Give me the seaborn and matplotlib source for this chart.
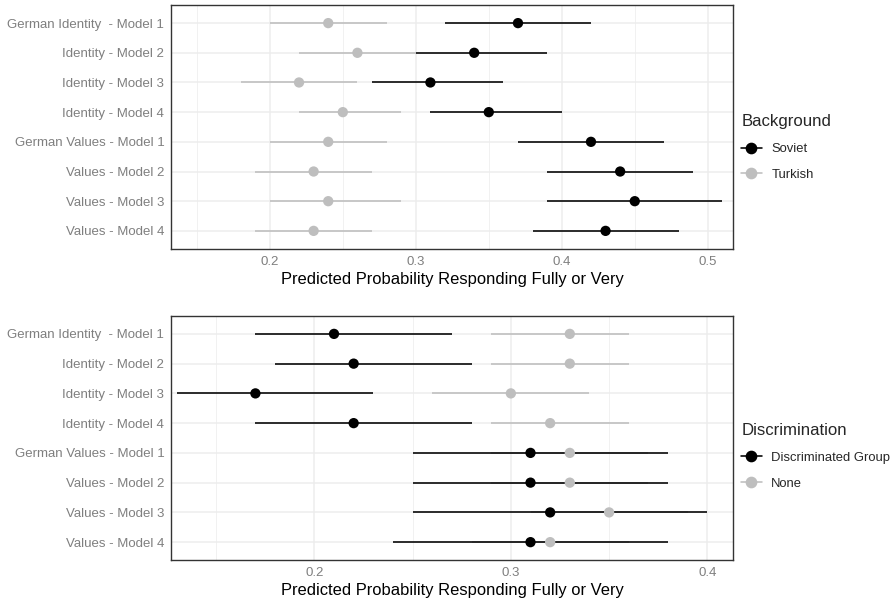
import pandas as pd
import seaborn as sns
import matplotlib.pyplot as plt
from matplotlib.lines import Line2D
from matplotlib.ticker import MultipleLocator

labels = ["German Identity  - Model 1", "Identity - Model 2", "Identity - Model 3",
          "Identity - Model 4", "German Values - Model 1", "Values - Model 2",
          "Values - Model 3", "Values - Model 4"]

# top panel: background
soviet_est = [0.37, 0.34, 0.31, 0.35, 0.42, 0.44, 0.45, 0.43]
soviet_lo = [0.32, 0.30, 0.27, 0.31, 0.37, 0.39, 0.39, 0.38]
soviet_hi = [0.42, 0.39, 0.36, 0.40, 0.47, 0.49, 0.51, 0.48]
turkish_est = [0.24, 0.26, 0.22, 0.25, 0.24, 0.23, 0.24, 0.23]
turkish_lo = [0.20, 0.22, 0.18, 0.22, 0.20, 0.19, 0.20, 0.19]
turkish_hi = [0.28, 0.30, 0.26, 0.29, 0.28, 0.27, 0.29, 0.27]

# bottom panel: discrimination
disc_est = [0.21, 0.22, 0.17, 0.22, 0.31, 0.31, 0.32, 0.31]
disc_lo = [0.17, 0.18, 0.13, 0.17, 0.25, 0.25, 0.25, 0.24]
disc_hi = [0.27, 0.28, 0.23, 0.28, 0.38, 0.38, 0.40, 0.38]
none_est = [0.33, 0.33, 0.30, 0.32, 0.33, 0.33, 0.35, 0.32]
none_lo = [0.29, 0.29, 0.26, 0.29, 0.29, 0.29, 0.31, 0.28]
none_hi = [0.36, 0.36, 0.34, 0.36, 0.37, 0.37, 0.39, 0.36]

BLACK = "#000000"
GREY = "#bebebe"


def make_df(names, ests, los, his):
    parts = []
    for name, est, lo, hi in zip(names, ests, los, his):
        parts.append(pd.DataFrame({"label": labels, "group": name,
                                   "est": est, "lo": lo, "hi": hi}))
    return pd.concat(parts, ignore_index=True)


df_bg = make_df(["Soviet", "Turkish"], [soviet_est, turkish_est],
                [soviet_lo, turkish_lo], [soviet_hi, turkish_hi])
df_disc = make_df(["Discriminated Group", "None"], [disc_est, none_est],
                  [disc_lo, none_lo], [disc_hi, none_hi])

sns.set_theme(style="white")
plt.rcParams["font.family"] = ["Liberation Sans", "DejaVu Sans"]

fig = plt.figure(figsize=(8.96, 6.03), dpi=100)
ax1 = fig.add_axes([0.1912, 0.5876, 0.6272, 0.4036])
ax2 = fig.add_axes([0.1912, 0.0713, 0.6272, 0.4046])


def draw_panel(ax, df, groups, title, xlim, leg_y):
    pal = {groups[0]: BLACK, groups[1]: GREY}
    # grey ranges underneath, then black ranges, then the points
    for z, g in [(2.0, groups[1]), (2.1, groups[0])]:
        sub = df[df["group"] == g]
        ax.hlines(y=sub["label"], xmin=sub["lo"], xmax=sub["hi"],
                  color=pal[g], lw=1.15, zorder=z)
    sns.scatterplot(data=df, x="est", y="label", hue="group", palette=pal,
                    s=55, edgecolor="none", legend=False, ax=ax, zorder=3)
    ax.set_xlim(*xlim)
    ax.set_ylim(7.6, -0.6)
    ax.xaxis.set_major_locator(MultipleLocator(0.1))
    ax.xaxis.set_minor_locator(MultipleLocator(0.05))
    ax.grid(True, which="major", color="#ededed", lw=1.1)
    ax.grid(True, which="minor", axis="x", color="#ededed", lw=0.55)
    ax.set_axisbelow(True)
    for sp in ax.spines.values():
        sp.set_color("#333333")
        sp.set_linewidth(1.0)
    ax.tick_params(axis="both", which="major", length=3, width=0.8,
                   color="#333333", labelcolor="#7f7f7f", labelsize=9.5, pad=2)
    ax.tick_params(axis="x", which="minor", length=0)
    ax.set_ylabel("")
    ax.set_xlabel("Predicted Probability Responding Fully or Very",
                  fontsize=11.9, color="black", labelpad=3)
    handles = [Line2D([0], [0], color=pal[g], marker="o", markersize=7.4,
                      lw=1.15) for g in groups]
    leg = ax.legend(handles, groups, title=title, loc="center left",
                    bbox_to_anchor=(0.998, leg_y), frameon=False,
                    fontsize=9.4, title_fontsize=12.1, handlelength=1.55,
                    handletextpad=0.75, labelspacing=1.05, borderaxespad=0.3,
                    alignment="left")
    return leg


draw_panel(ax1, df_bg, ["Soviet", "Turkish"], "Background",
           (0.1325, 0.5175), 0.415)
draw_panel(ax2, df_disc, ["Discriminated Group", "None"], "Discrimination",
           (0.1272, 0.4132), 0.425)

fig.savefig("out.png", dpi=100)
